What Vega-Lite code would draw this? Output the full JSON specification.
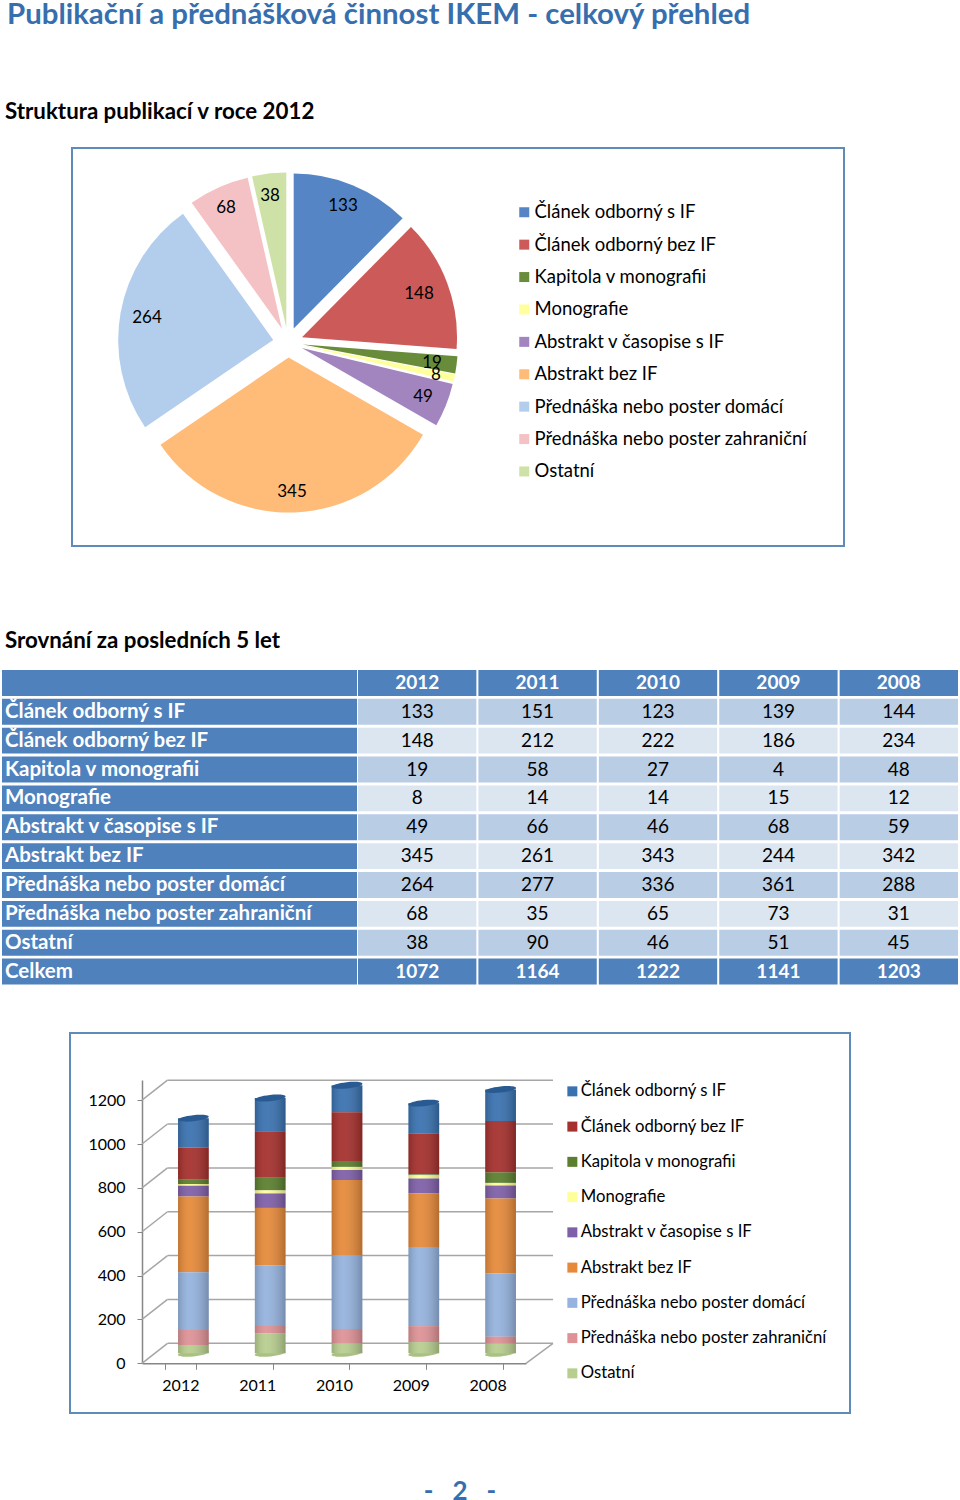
{"$schema":"https://vega.github.io/schema/vega-lite/v6.json","padding":{"left":2,"top":0,"right":0,"bottom":0},"background":"white","autosize":{"type":"pad"},
"config":{"view":{"stroke":null},"font":"Lato","concat":{"spacing":0},"legend":{"title":null,"padding":0,"symbolType":"square","symbolStrokeWidth":0,"orient":"none"}},
"title":{"text":"Publikační a přednášková činnost IKEM - celkový přehled","anchor":"start","frame":"group","dx":5,"font":"Lato","fontSize":29.4,"fontWeight":"bold","color":"#376FAE","offset":70},
"resolve":{"scale":{"color":"independent"},"legend":{"color":"independent"}},
"datasets":{"rows":[
{"label":"Článek odborný s IF","order":1,"year":"2012","value":133},{"label":"Článek odborný s IF","order":1,"year":"2011","value":151},{"label":"Článek odborný s IF","order":1,"year":"2010","value":123},{"label":"Článek odborný s IF","order":1,"year":"2009","value":139},{"label":"Článek odborný s IF","order":1,"year":"2008","value":144},
{"label":"Článek odborný bez IF","order":2,"year":"2012","value":148},{"label":"Článek odborný bez IF","order":2,"year":"2011","value":212},{"label":"Článek odborný bez IF","order":2,"year":"2010","value":222},{"label":"Článek odborný bez IF","order":2,"year":"2009","value":186},{"label":"Článek odborný bez IF","order":2,"year":"2008","value":234},
{"label":"Kapitola v monografii","order":3,"year":"2012","value":19},{"label":"Kapitola v monografii","order":3,"year":"2011","value":58},{"label":"Kapitola v monografii","order":3,"year":"2010","value":27},{"label":"Kapitola v monografii","order":3,"year":"2009","value":4},{"label":"Kapitola v monografii","order":3,"year":"2008","value":48},
{"label":"Monografie","order":4,"year":"2012","value":8},{"label":"Monografie","order":4,"year":"2011","value":14},{"label":"Monografie","order":4,"year":"2010","value":14},{"label":"Monografie","order":4,"year":"2009","value":15},{"label":"Monografie","order":4,"year":"2008","value":12},
{"label":"Abstrakt v časopise s IF","order":5,"year":"2012","value":49},{"label":"Abstrakt v časopise s IF","order":5,"year":"2011","value":66},{"label":"Abstrakt v časopise s IF","order":5,"year":"2010","value":46},{"label":"Abstrakt v časopise s IF","order":5,"year":"2009","value":68},{"label":"Abstrakt v časopise s IF","order":5,"year":"2008","value":59},
{"label":"Abstrakt bez IF","order":6,"year":"2012","value":345},{"label":"Abstrakt bez IF","order":6,"year":"2011","value":261},{"label":"Abstrakt bez IF","order":6,"year":"2010","value":343},{"label":"Abstrakt bez IF","order":6,"year":"2009","value":244},{"label":"Abstrakt bez IF","order":6,"year":"2008","value":342},
{"label":"Přednáška nebo poster domácí","order":7,"year":"2012","value":264},{"label":"Přednáška nebo poster domácí","order":7,"year":"2011","value":277},{"label":"Přednáška nebo poster domácí","order":7,"year":"2010","value":336},{"label":"Přednáška nebo poster domácí","order":7,"year":"2009","value":361},{"label":"Přednáška nebo poster domácí","order":7,"year":"2008","value":288},
{"label":"Přednáška nebo poster zahraniční","order":8,"year":"2012","value":68},{"label":"Přednáška nebo poster zahraniční","order":8,"year":"2011","value":35},{"label":"Přednáška nebo poster zahraniční","order":8,"year":"2010","value":65},{"label":"Přednáška nebo poster zahraniční","order":8,"year":"2009","value":73},{"label":"Přednáška nebo poster zahraniční","order":8,"year":"2008","value":31},
{"label":"Ostatní","order":9,"year":"2012","value":38},{"label":"Ostatní","order":9,"year":"2011","value":90},{"label":"Ostatní","order":9,"year":"2010","value":46},{"label":"Ostatní","order":9,"year":"2009","value":51},{"label":"Ostatní","order":9,"year":"2008","value":45},
{"label":"Celkem","order":10,"year":"2012","value":1072},{"label":"Celkem","order":10,"year":"2011","value":1164},{"label":"Celkem","order":10,"year":"2010","value":1222},{"label":"Celkem","order":10,"year":"2009","value":1141},{"label":"Celkem","order":10,"year":"2008","value":1203}],
"years":[{"year":"2012"},{"year":"2011"},{"year":"2010"},{"year":"2009"},{"year":"2008"}],
"ticks":[{"tick":0},{"tick":200},{"tick":400},{"tick":600},{"tick":800},{"tick":1000},{"tick":1200}]},
"vconcat":[
{"title":{"text":"Struktura publikací v roce 2012","anchor":"start","frame":"group","dx":3,"font":"Lato","fontSize":22.3,"fontWeight":"bold","color":"black","offset":24},
"resolve":{"scale":{"color":"independent"},"legend":{"color":"independent"}},
"hconcat":[
{"width":69,"height":434.5,"data":{"values":[{}]},"mark":{"type":"text","opacity":0}},
{"width":772,"height":398,"view":{"stroke":"#5F8BB8","strokeWidth":2,"fill":"white"},
"data":{"name":"rows"},
"transform":[{"filter":"datum.order<=9 && datum.year=='2012'"},{"stack":"value","groupby":[],"sort":[{"field":"order","order":"ascending"}],"as":["a","b"]}],
"encoding":{"theta":{"field":"a","type":"quantitative","stack":null,"scale":{"domain":[0,1072]}},"theta2":{"field":"b"},
"color":{"field":"label","type":"nominal","scale":{"domain":["Článek odborný s IF","Článek odborný bez IF","Kapitola v monografii","Monografie","Abstrakt v časopise s IF","Abstrakt bez IF","Přednáška nebo poster domácí","Přednáška nebo poster zahraniční","Ostatní"],"range":["#5585C5","#CC5A58","#698C3A","#FFFF9E","#A285BF","#FFBB78","#B3CDEC","#F4C2C4","#CEE2A7"]},
"legend":{"legendX":443,"legendY":55,"symbolSize":100,"labelFontSize":18.5,"labelOffset":1,"rowPadding":13.4,"labelColor":"black","labelLimit":320}}},
"layer":[
{"transform":[{"filter":"datum.order==1"}],"mark":{"type":"arc","radius":155,"xOffset":-164.3,"yOffset":-18.4}},
{"transform":[{"filter":"datum.order==2"}],"mark":{"type":"arc","radius":155,"xOffset":-156,"yOffset":-9.75}},
{"transform":[{"filter":"datum.order==3"}],"mark":{"type":"arc","radius":155,"xOffset":-155.1,"yOffset":-2.5}},
{"transform":[{"filter":"datum.order==4"}],"mark":{"type":"arc","radius":155,"xOffset":-155.3,"yOffset":-1.4}},
{"transform":[{"filter":"datum.order==5"}],"mark":{"type":"arc","radius":155,"xOffset":-156.1,"yOffset":1}},
{"transform":[{"filter":"datum.order==6"}],"mark":{"type":"arc","radius":155,"xOffset":-169.4,"yOffset":10.5}},
{"transform":[{"filter":"datum.order==7"}],"mark":{"type":"arc","radius":155,"xOffset":-184.8,"yOffset":-7.1}},
{"transform":[{"filter":"datum.order==8"}],"mark":{"type":"arc","radius":155,"xOffset":-176.1,"yOffset":-18.2}},
{"transform":[{"filter":"datum.order==9"}],"mark":{"type":"arc","radius":155,"xOffset":-171.7,"yOffset":-19.4}},
{"transform":[{"filter":"datum.order==1"}],"mark":{"type":"text","fontSize":17,"color":"black","xOffset":-115,"yOffset":-141},"encoding":{"theta":null,"theta2":null,"color":null,"text":{"field":"value"}}},
{"transform":[{"filter":"datum.order==2"}],"mark":{"type":"text","fontSize":17,"color":"black","xOffset":-39,"yOffset":-53},"encoding":{"theta":null,"theta2":null,"color":null,"text":{"field":"value"}}},
{"transform":[{"filter":"datum.order==3"}],"mark":{"type":"text","fontSize":17,"color":"black","xOffset":-26,"yOffset":16},"encoding":{"theta":null,"theta2":null,"color":null,"text":{"field":"value"}}},
{"transform":[{"filter":"datum.order==4"}],"mark":{"type":"text","fontSize":17,"color":"black","xOffset":-22,"yOffset":28},"encoding":{"theta":null,"theta2":null,"color":null,"text":{"field":"value"}}},
{"transform":[{"filter":"datum.order==5"}],"mark":{"type":"text","fontSize":17,"color":"black","xOffset":-35,"yOffset":50},"encoding":{"theta":null,"theta2":null,"color":null,"text":{"field":"value"}}},
{"transform":[{"filter":"datum.order==6"}],"mark":{"type":"text","fontSize":17,"color":"black","xOffset":-166,"yOffset":145},"encoding":{"theta":null,"theta2":null,"color":null,"text":{"field":"value"}}},
{"transform":[{"filter":"datum.order==7"}],"mark":{"type":"text","fontSize":17,"color":"black","xOffset":-311,"yOffset":-29},"encoding":{"theta":null,"theta2":null,"color":null,"text":{"field":"value"}}},
{"transform":[{"filter":"datum.order==8"}],"mark":{"type":"text","fontSize":17,"color":"black","xOffset":-232,"yOffset":-139},"encoding":{"theta":null,"theta2":null,"color":null,"text":{"field":"value"}}},
{"transform":[{"filter":"datum.order==9"}],"mark":{"type":"text","fontSize":17,"color":"black","xOffset":-188,"yOffset":-151},"encoding":{"theta":null,"theta2":null,"color":null,"text":{"field":"value"}}}
]}]},
{"title":{"text":"Srovnání za posledních 5 let","anchor":"start","frame":"group","dx":3,"font":"Lato","fontSize":22.3,"fontWeight":"bold","color":"black","offset":17.5},
"spacing":1,
"resolve":{"scale":{"color":"independent"},"legend":{"color":"independent"}},
"hconcat":[
{"width":355,"height":314.5,"data":{"name":"rows"},"transform":[{"filter":"datum.year=='2012'"}],
"layer":[
{"mark":{"type":"rect","color":"#4F81BD"},"encoding":{"y":{"field":"label","type":"nominal","axis":null,"scale":{"domain":[" ","Článek odborný s IF","Článek odborný bez IF","Kapitola v monografii","Monografie","Abstrakt v časopise s IF","Abstrakt bez IF","Přednáška nebo poster domácí","Přednáška nebo poster zahraniční","Ostatní","Celkem"],"paddingInner":0.103,"paddingOuter":0}}}},
{"mark":{"type":"rect","color":"#4F81BD"},"encoding":{"y":{"datum":" ","type":"nominal","axis":null}}},
{"mark":{"type":"text","align":"left","dx":3,"fontSize":20.5,"fontWeight":"bold","color":"white"},"encoding":{"x":{"datum":0,"type":"quantitative","axis":null,"scale":{"domain":[0,1]}},"y":{"field":"label","type":"nominal","axis":null},"text":{"field":"label"}}}
]},
{"width":600,"height":314.5,
"encoding":{"x":{"field":"year","type":"nominal","axis":null,"scale":{"domain":["2012","2011","2010","2009","2008"],"paddingInner":0.017,"paddingOuter":0,"align":0}},
"y":{"field":"label","type":"nominal","axis":null,"scale":{"domain":[" ","Článek odborný s IF","Článek odborný bez IF","Kapitola v monografii","Monografie","Abstrakt v časopise s IF","Abstrakt bez IF","Přednáška nebo poster domácí","Přednáška nebo poster zahraniční","Ostatní","Celkem"],"paddingInner":0.103,"paddingOuter":0}}},
"layer":[
{"data":{"name":"rows"},"mark":"rect","encoding":{"color":{"field":"label","type":"nominal","legend":null,"scale":{"domain":["Článek odborný s IF","Článek odborný bez IF","Kapitola v monografii","Monografie","Abstrakt v časopise s IF","Abstrakt bez IF","Přednáška nebo poster domácí","Přednáška nebo poster zahraniční","Ostatní","Celkem"],"range":["#B9CDE5","#DCE6F1","#B9CDE5","#DCE6F1","#B9CDE5","#DCE6F1","#B9CDE5","#DCE6F1","#B9CDE5","#4F81BD"]}}}},
{"data":{"name":"years"},"mark":{"type":"rect","color":"#4F81BD"},"encoding":{"y":{"datum":" ","type":"nominal"}}},
{"data":{"name":"years"},"mark":{"type":"text","fontSize":19,"fontWeight":"bold","color":"white"},"encoding":{"y":{"datum":" ","type":"nominal"},"text":{"field":"year"}}},
{"data":{"name":"rows"},"transform":[{"filter":"datum.order<=9"}],"mark":{"type":"text","fontSize":19,"color":"black"},"encoding":{"text":{"field":"value"}}},
{"data":{"name":"rows"},"transform":[{"filter":"datum.order==10"}],"mark":{"type":"text","fontSize":19,"fontWeight":"bold","color":"white"},"encoding":{"text":{"field":"value"}}}
]}]},
{"resolve":{"scale":{"color":"independent"},"legend":{"color":"independent"}},"hconcat":[
{"width":67,"height":380,"data":{"values":[{}]},"mark":{"type":"text","opacity":0}},
{"width":780,"height":380,"view":{"stroke":"#5F8BB8","strokeWidth":2,"fill":"white"},
"resolve":{"scale":{"x":"independent"},"axis":{"x":"independent"}},
"encoding":{"y":{"type":"quantitative","scale":{"domain":[0,1292],"range":[330.3,47],"nice":false},"axis":{"values":[0,200,400,600,800,1000,1200],"format":"d","offset":-72,"grid":false,"title":null,"tickSize":5,"tickColor":"#868686","domainColor":"#868686","domainWidth":1.5,"labelFontSize":16,"labelColor":"black","labelPadding":12}}},
"layer":[
{"data":{"name":"ticks"},"mark":{"type":"rule","color":"#A6A6A6","strokeWidth":1.5,"xOffset":25.5,"x2Offset":27,"yOffset":-20},"encoding":{"x":{"datum":0,"type":"quantitative","axis":null,"scale":{"domain":[0,1],"range":[72,456]}},"x2":{"datum":1},"y":{"field":"tick","type":"quantitative"}}},
{"data":{"name":"ticks"},"mark":{"type":"rule","color":"#A6A6A6","strokeWidth":1.5,"x2Offset":25.5,"y2Offset":-20},"encoding":{"x":{"datum":0,"type":"quantitative","axis":null,"scale":{"domain":[0,1],"range":[72,456]}},"x2":{"datum":0},"y":{"field":"tick","type":"quantitative"},"y2":{"field":"tick"}}},
{"data":{"values":[{"tick":0}]},"mark":{"type":"rule","color":"#A6A6A6","strokeWidth":1.5,"x2Offset":27,"y2Offset":-20},"encoding":{"x":{"datum":1,"type":"quantitative","axis":null,"scale":{"domain":[0,1],"range":[72,456]}},"x2":{"datum":1},"y":{"field":"tick","type":"quantitative"},"y2":{"field":"tick"}}},
{"data":{"name":"years"},"mark":{"type":"point","filled":true,"opacity":1,"color":"#A9C283","shape":"M-1,0A1,0.2 0 1,1 1,0A1,0.2 0 1,1 -1,0Z","size":961,"angle":-6,"xOffset":13,"yOffset":-10},
"encoding":{"x":{"field":"year","type":"nominal","axis":null,"scale":{"domain":["2012","2011","2010","2009","2008"],"range":[72,456],"paddingInner":0.6,"paddingOuter":0.3}},"y":{"datum":0,"type":"quantitative"}}},
{"data":{"name":"rows"},"transform":[{"filter":"datum.order<=9"}],"mark":{"type":"bar","xOffset":13,"yOffset":-10},
"encoding":{"x":{"field":"year","type":"nominal","sort":null,"scale":{"domain":["2012","2011","2010","2009","2008"],"range":[72,456],"paddingInner":0.6,"paddingOuter":0.3},"axis":{"title":null,"labelAngle":0,"offset":-49.7,"tickBand":"extent","tickSize":6,"tickColor":"#868686","domainColor":"#868686","domainWidth":1.5,"labelFontSize":16,"labelColor":"black","labelPadding":8,"grid":false}},
"y":{"field":"value","type":"quantitative","stack":"zero"},
"order":{"field":"order","sort":"descending"},
"color":{"field":"label","type":"nominal","scale":{"domain":["Článek odborný s IF","Článek odborný bez IF","Kapitola v monografii","Monografie","Abstrakt v časopise s IF","Abstrakt bez IF","Přednáška nebo poster domácí","Přednáška nebo poster zahraniční","Ostatní"],
"range":["#3A72B0","#A5302D","#5B7F2E","#FFFF99","#7F5FA8","#E68A3A","#95B3DE","#DE9296","#B8CE8F"]},
"legend":{"legendX":494,"legendY":50,"symbolSize":100,"labelFontSize":16.7,"labelOffset":0,"rowPadding":17.25,"labelColor":"black","labelLimit":320}}}},
{"data":{"name":"rows"},"transform":[{"filter":"datum.order==10"}],"mark":{"type":"bar","xOffset":13,"yOffset":-10,"color":{"gradient":"linear","x1":0,"y1":0,"x2":1,"y2":0,"stops":[{"offset":0,"color":"rgba(0,0,0,0.16)"},{"offset":0.35,"color":"rgba(255,255,255,0.06)"},{"offset":1,"color":"rgba(0,0,0,0.22)"}]}},
"encoding":{"x":{"field":"year","type":"nominal","axis":null,"scale":{"domain":["2012","2011","2010","2009","2008"],"range":[72,456],"paddingInner":0.6,"paddingOuter":0.3}},"y":{"field":"value","type":"quantitative"}}},
{"data":{"name":"rows"},"transform":[{"filter":"datum.order==10"}],"mark":{"type":"point","filled":true,"opacity":1,"color":"#2A5A92","shape":"M-1,0A1,0.2 0 1,1 1,0A1,0.2 0 1,1 -1,0Z","size":961,"angle":-6,"xOffset":13,"yOffset":-10},
"encoding":{"x":{"field":"year","type":"nominal","axis":null,"scale":{"domain":["2012","2011","2010","2009","2008"],"range":[72,456],"paddingInner":0.6,"paddingOuter":0.3}},"y":{"field":"value","type":"quantitative"}}}
]}]},
{"width":956,"height":40,"data":{"values":[{"page":"-\u00a0\u00a0\u00a02\u00a0\u00a0\u00a0-"}]},"mark":{"type":"text","fontSize":26,"fontWeight":"bold","color":"#376FAE","xOffset":-20,"yOffset":11},"encoding":{"text":{"field":"page"}}}
],"spacing":47}
